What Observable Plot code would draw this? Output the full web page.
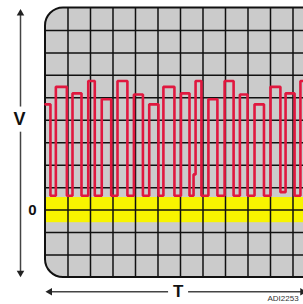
<!DOCTYPE html>
<html>
<head>
<meta charset="utf-8">
<script src="https://cdn.jsdelivr.net/npm/d3@7"></script>
<script src="https://cdn.jsdelivr.net/npm/@observablehq/plot@0.6"></script>
<style>
  html, body { margin: 0; padding: 0; background: #fff; overflow: hidden; }
  #chart { width: 303px; height: 304px; overflow: hidden; }
</style>
</head>
<body>
<div id="chart"></div>
<script>
// Waveform: transition times (grid divisions) and the level held after each (divisions above 0)
const times  = [0, 0.22, 0.46, 0.95, 1.2, 1.6, 1.9, 2.19, 2.5, 2.92,
                3.2, 3.64, 3.93, 4.33, 4.61, 5.02, 5.24, 5.73, 6.02, 6.4,
                6.58, 6.67, 6.93, 7.24, 7.64, 7.96, 8.36, 8.64, 8.98, 9.29,
                9.71, 10, 10.44, 10.67, 11.07, 11.33, 11.8];
const levels = [4.71, 0.64, 5.49, 0.64, 5.2, 0.64, 5.75, 0.64, 4.94, 0.64,
                5.75, 0.64, 5.15, 0.64, 4.71, 0.64, 5.49, 0.64, 5.2, 0.64,
                1.59, 5.75, 0.64, 4.94, 0.64, 5.75, 0.64, 5.15, 0.64, 4.71,
                0.64, 5.49, 0.8, 5.2, 0.64, 5.75, 0.64];
// Graticule divisions
const gridX = [1, 2, 3, 4, 5, 6, 7, 8, 9, 10, 11];
const gridY = [-2, -1, 0, 1, 2, 3, 4, 5, 6, 7, 8];
const screenX = [0, 14];
const screenY = [-3, 9];
// Zero-level band
const zeroBand = [-0.56, 0.56];
// Axis labels
const vLabel = "V";
const tLabel = "T";
const zeroLabel = "0";
const figId = "ADI2253";

const wave = times.map((t, i) => ({t, v: levels[i]}));

const font = "'Liberation Sans', Arial, Helvetica, sans-serif";
const axisX = -1.111, axisY = -3.639;

const chart = Plot.plot({
  width: 303,
  height: 304,
  marginTop: 0, marginRight: 0, marginBottom: 0, marginLeft: 0,
  x: {domain: [-2, 11.4667], axis: null},
  y: {domain: [-4.2027, 9.334], axis: null},
  style: {background: "#fff", overflow: "hidden", fontFamily: font},
  marks: [
    // screen face
    Plot.rect([0], {x1: screenX[0], x2: screenX[1], y1: screenY[0], y2: screenY[1], fill: "#cbcbcb", rx: 18}),
    // zero band
    Plot.rect([0], {x1: screenX[0], x2: screenX[1], y1: zeroBand[0], y2: zeroBand[1], fill: "#f8f400"}),
    // graticule
    Plot.ruleX(gridX, {y1: screenY[0], y2: screenY[1], stroke: "#111", strokeWidth: 1.5}),
    Plot.ruleY(gridY, {x1: screenX[0], x2: screenX[1], stroke: "#111", strokeWidth: 1.5}),
    // screen border
    Plot.rect([0], {x1: screenX[0], x2: screenX[1], y1: screenY[0], y2: screenY[1], fill: "none", stroke: "#111", strokeWidth: 2, rx: 18}),
    // waveform
    Plot.line(wave, {x: "t", y: "v", curve: "step-after", stroke: "#e0183f", strokeWidth: 2.6, strokeLinejoin: "miter"}),
    // V axis arrow
    Plot.ruleX([axisX], {y1: 8.7, y2: 4.59, stroke: "#444", strokeWidth: 1.5}),
    Plot.ruleX([axisX], {y1: 3.47, y2: -2.75, stroke: "#444", strokeWidth: 1.5}),
    Plot.dot([0], {x: axisX, y: 8.762, symbol: "triangle", r: 2.8, fill: "#222", stroke: "none"}),
    Plot.dot([0], {x: axisX, y: -2.793, symbol: "triangle", r: 2.8, fill: "#222", stroke: "none", rotate: 180}),
    // T axis arrow
    Plot.ruleY([axisY], {x1: 0.2, x2: 5.47, stroke: "#444", strokeWidth: 1.5}),
    Plot.ruleY([axisY], {x1: 6.36, x2: 11.4, stroke: "#444", strokeWidth: 1.5}),
    Plot.dot([0], {x: 0.191, y: axisY, symbol: "triangle", r: 2.8, fill: "#222", stroke: "none", rotate: -90}),
    Plot.dot([0], {x: 11.42, y: axisY, symbol: "triangle", r: 2.8, fill: "#222", stroke: "none", rotate: 90}),
    // labels
    Plot.text([vLabel], {x: -1.15, y: 4.03, text: d => d, fontSize: 18, fontWeight: "bold", fill: "#111"}),
    Plot.text([zeroLabel], {x: -0.58, y: 0, text: d => d, fontSize: 15, fontWeight: "bold", fill: "#111"}),
    Plot.text([tLabel], {x: 5.9, y: axisY, text: d => d, fontSize: 17, fontWeight: "bold", fill: "#111"}),
    Plot.text([figId], {x: 11.25, y: -3.92, text: d => d, fontSize: 8, fill: "#333", textAnchor: "end"})
  ]
});
document.getElementById("chart").appendChild(chart);
</script>
</body>
</html>
